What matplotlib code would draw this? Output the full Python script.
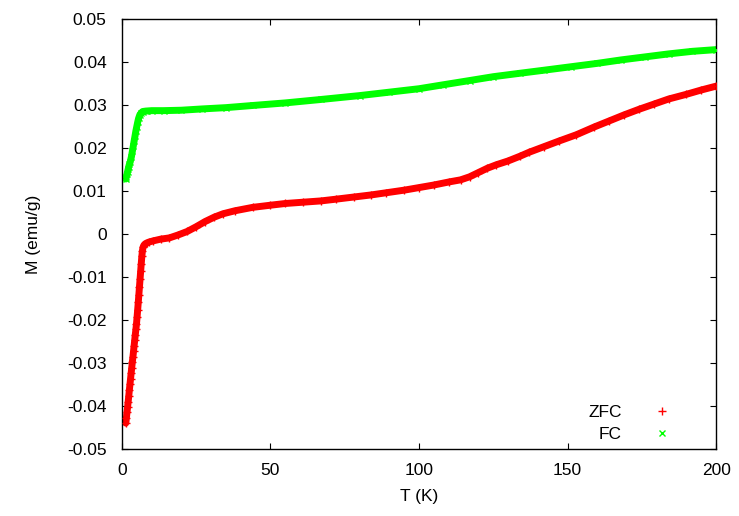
import matplotlib
matplotlib.use("Agg")
import matplotlib.pyplot as plt
from matplotlib.lines import Line2D

plt.rcParams["font.family"] = ["Liberation Sans", "DejaVu Sans"]
FS = 12.5
plt.rcParams["font.size"] = FS

# Zero-field-cooled magnetisation
T_zfc = [1.3, 1.5, 1.7, 1.9, 2.1, 2.3, 2.5, 2.7, 2.9, 3.1, 3.3, 3.5, 3.7, 3.9,
         4.1, 4.3, 4.5, 4.7, 4.9, 5.1, 5.3, 5.5, 5.7, 5.9, 6.1, 6.3, 6.5, 6.7,
         6.9, 7.1, 7.4, 7.8, 8.3, 9.0, 10.5, 13, 16, 19, 22, 25, 28, 31, 34,
         38, 44, 50, 55, 61, 67, 72, 78, 84, 89, 95, 100, 105, 110, 114, 117,
         120, 123, 126, 130, 134, 137, 142, 147, 153, 159, 164, 169, 174, 179,
         184, 190, 195, 200]
M_zfc = [-0.0440, -0.0428, -0.0415, -0.0403, -0.0390, -0.0377, -0.0363,
         -0.0350, -0.0337, -0.0324, -0.0311, -0.0298, -0.0286, -0.0273,
         -0.0260, -0.0247, -0.0234, -0.0222, -0.0209, -0.0193, -0.0176,
         -0.0159, -0.0141, -0.0123, -0.0105, -0.0087, -0.0069, -0.0052,
         -0.0039, -0.0031, -0.0026, -0.0023, -0.0021, -0.0019, -0.0016,
         -0.0012, -0.0009, -0.0002, 0.0006, 0.0017, 0.0029, 0.0039, 0.0047,
         0.0054, 0.0062, 0.0067, 0.0071, 0.0074, 0.0077, 0.0081, 0.0086,
         0.0091, 0.0096, 0.0102, 0.0108, 0.0114, 0.0121, 0.0126, 0.0133,
         0.0143, 0.0153, 0.0161, 0.0170, 0.0181, 0.0190, 0.0203, 0.0216,
         0.0231, 0.0249, 0.0263, 0.0277, 0.0290, 0.0302, 0.0314, 0.0325,
         0.0335, 0.0344]

# Field-cooled magnetisation
T_fc = [1.3, 1.5, 1.7, 1.9, 2.1, 2.3, 2.5, 2.8, 3.2, 3.5, 3.8, 4.1, 4.4, 4.7,
        5.0, 5.3, 5.6, 6.0, 6.5, 7.0, 8, 10, 14, 20, 27, 35, 44, 55, 67, 80,
        90, 100, 108, 117, 125, 134, 142, 151, 160, 168, 176, 184, 192, 200]
M_fc = [0.0128, 0.0133, 0.0139, 0.0145, 0.0151, 0.0157, 0.0162, 0.0168,
        0.0180, 0.0192, 0.0204, 0.0216, 0.0228, 0.0240, 0.0250, 0.0260,
        0.0269, 0.0277, 0.0282, 0.0285, 0.0286, 0.0287, 0.0287, 0.0288,
        0.0291, 0.0294, 0.0299, 0.0305, 0.0313, 0.0322, 0.0330, 0.0338,
        0.0347, 0.0357, 0.0366, 0.0374, 0.0381, 0.0389, 0.0397, 0.0405,
        0.0412, 0.0419, 0.0425, 0.0429]

x_ticks = [0, 50, 100, 150, 200]
y_ticks = [-0.05, -0.04, -0.03, -0.02, -0.01, 0, 0.01, 0.02, 0.03, 0.04, 0.05]
y_labels = ["-0.05", "-0.04", "-0.03", "-0.02", "-0.01", "0",
            "0.01", "0.02", "0.03", "0.04", "0.05"]

RED = "#ff0000"
GREEN = "#00ff00"

fig = plt.figure(figsize=(7.39, 5.16), dpi=100)
ax = fig.add_axes([0.165, 0.130, 0.804, 0.833])

ax.plot(T_zfc, M_zfc, color=RED, lw=5.0, solid_capstyle="round", zorder=2)
ax.plot(T_zfc, M_zfc, ls="none", marker="+", ms=6, mew=1.0, color=RED, zorder=3)
ax.plot(T_fc, M_fc, color=GREEN, lw=5.0, solid_capstyle="round", zorder=2)
ax.plot(T_fc, M_fc, ls="none", marker="x", ms=5, mew=1.0, color=GREEN, zorder=3)

ax.set_xlim(0, 200)
ax.set_ylim(-0.05, 0.05)
ax.set_xticks(x_ticks)
ax.set_xticklabels([str(v) for v in x_ticks])
ax.set_yticks(y_ticks)
ax.set_yticklabels(y_labels)
ax.tick_params(direction="in", length=4.5, width=0.8, top=True, right=True,
               labelsize=FS, colors="black")
ax.tick_params(axis="x", pad=10)
ax.tick_params(axis="y", pad=11)
for sp in ax.spines.values():
    sp.set_linewidth(1.0)

ax.set_xlabel("T (K)", fontsize=FS, labelpad=8)
ax.set_ylabel("M (emu/g)", fontsize=FS, labelpad=19)

handles = [Line2D([], [], ls="none", marker="+", ms=6, mew=1.0, color=RED),
           Line2D([], [], ls="none", marker="x", ms=5, mew=1.0, color=GREEN)]
ax.legend(handles, ["ZFC", "FC"], loc="lower right", markerfirst=False,
          frameon=False, fontsize=FS, handlelength=1.0, handletextpad=1.8,
          labelspacing=0.37, borderaxespad=0.0, bbox_to_anchor=(0.935, 0.0))

fig.savefig("out.png", dpi=100)
